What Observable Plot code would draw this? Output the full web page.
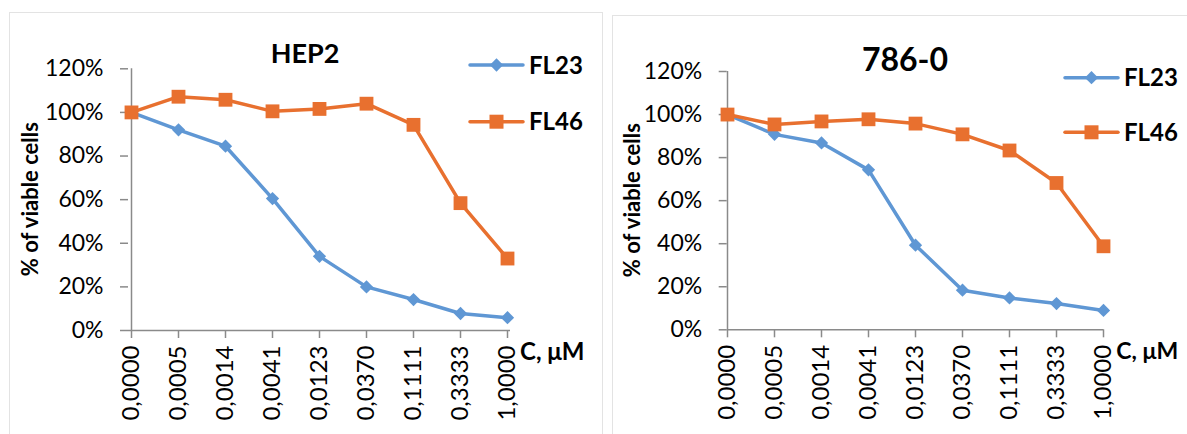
<!DOCTYPE html>
<html>
<head>
<meta charset="utf-8">
<script src="https://cdn.jsdelivr.net/npm/d3@7"></script>
<script src="https://cdn.jsdelivr.net/npm/@observablehq/plot@0.6"></script>
<style>
  html, body { margin: 0; padding: 0; background: #fff; }
  #page { position: relative; width: 1187px; height: 434px; overflow: hidden; background: #fff; }
  .panel { position: absolute; border: 1px solid #e3e3e3; background: #fff; }
  .chart { position: absolute; top: 0; }
</style>
</head>
<body>
<div id="page">
  <div class="panel" style="left:9px; top:12px; width:592px; height:440px;"></div>
  <div class="panel" style="left:612px; top:15px; width:600px; height:440px;"></div>
  <div class="chart" id="c1" style="left:0px;"></div>
  <div class="chart" id="c2" style="left:600px;"></div>
</div>
<script>
// ---- data ----
const concentrations = ["0,0000","0,0005","0,0014","0,0041","0,0123","0,0370","0,1111","0,3333","1,0000"];
const seriesNames = ["FL23", "FL46"];
const hep2FL23 = [100, 92, 84.5, 60.5, 34, 20, 14.2, 7.8, 5.9];
const hep2FL46 = [100, 107.2, 105.8, 100.5, 101.6, 104, 94.3, 58.4, 33];
const c786FL23 = [100, 90.8, 86.8, 74.3, 39.3, 18.4, 14.8, 12.2, 9];
const c786FL46 = [100, 95.4, 96.8, 97.8, 95.8, 90.8, 83.3, 68.2, 38.8];
const yTicks = [0, 20, 40, 60, 80, 100, 120];
const titles = ["HEP2", "786-0"];
const yLabel = "% of viable cells";
const xLabel = "C, μM";

const FONT = "Lato, 'Open Sans', 'Liberation Sans', sans-serif";
const BLUE = "#5f97d4";
const ORANGE = "#e8702f";
const AXIS = "#8a8a8a";

function chart(el, o) {
  const rows = concentrations.map((c, i) => ({c, FL23: o.fl23[i], FL46: o.fl46[i]}));
  const p = Plot.plot({
    width: o.width, height: 434,
    marginLeft: o.mL, marginRight: o.mR, marginTop: o.mT, marginBottom: o.mB,
    style: {fontFamily: FONT, fontSize: "23px", color: "#000", background: "transparent", overflow: "visible"},
    x: {type: "point", domain: concentrations, padding: 0, label: null},
    y: {domain: [0, 120], label: null},
    marks: [
      Plot.axisY({ticks: yTicks, tickFormat: d => d + "%", tickSize: 8, tickPadding: 17, stroke: AXIS, strokeWidth: 1.5, fill: "#000", fontSize: 23, label: null}),
      Plot.axisX({tickSize: 8, tickRotate: -90, tickPadding: 7, stroke: AXIS, strokeWidth: 1.5, fill: "#000", fontSize: 24, label: null}),
      Plot.ruleX([concentrations[0]], {y1: 0, y2: 120, stroke: AXIS, strokeWidth: 1.5}),
      Plot.ruleY([0], {stroke: AXIS, strokeWidth: 1.5}),
      Plot.line(rows, {x: "c", y: "FL23", stroke: BLUE, strokeWidth: 3.5}),
      Plot.dot(rows, {x: "c", y: "FL23", symbol: "square", rotate: 45, r: 5.3, fill: BLUE, stroke: "none"}),
      Plot.line(rows, {x: "c", y: "FL46", stroke: ORANGE, strokeWidth: 3.5}),
      Plot.dot(rows, {x: "c", y: "FL46", symbol: "square", r: 7.8, fill: ORANGE, stroke: "none"})
    ]
  });
  const svg = d3.select(p);
  // title
  svg.append("text").attr("x", o.titleX).attr("y", o.titleY).attr("text-anchor", "middle")
    .attr("font-weight", "bold").attr("font-size", o.titleSize).attr("font-family", FONT).text(o.title);
  // y label
  svg.append("text").attr("transform", `translate(${o.yLabX},${(o.mT + 434 - o.mB) / 2}) rotate(-90)`)
    .attr("text-anchor", "middle").attr("dy", "0.35em").attr("font-weight", "bold").attr("font-size", 22)
    .attr("font-family", FONT).text(yLabel);
  // x label
  svg.append("text").attr("x", o.width - o.mR + o.xLabDx).attr("y", 434 - o.mB + 30).attr("text-anchor", "start")
    .attr("font-weight", "bold").attr("font-size", o.xLabSize).attr("font-family", FONT).text(xLabel);
  // legend
  const leg = [
    {name: seriesNames[0], color: BLUE, y: o.legY[0], diamond: true},
    {name: seriesNames[1], color: ORANGE, y: o.legY[1], diamond: false}
  ];
  leg.forEach(l => {
    const g = svg.append("g");
    g.append("line").attr("x1", o.legX).attr("x2", o.legX + 53).attr("y1", l.y).attr("y2", l.y)
      .attr("stroke", l.color).attr("stroke-width", 3.5).attr("stroke-linecap", "round");
    const cx = o.legX + 26.5;
    if (l.diamond) {
      g.append("rect").attr("x", -4.7).attr("y", -4.7).attr("width", 9.4).attr("height", 9.4)
        .attr("transform", `translate(${cx},${l.y}) rotate(45)`).attr("fill", l.color);
    } else {
      g.append("rect").attr("x", cx - 7).attr("y", l.y - 7).attr("width", 14).attr("height", 14).attr("fill", l.color);
    }
    g.append("text").attr("x", o.legX + 59).attr("y", l.y).attr("dy", "0.36em").attr("text-anchor", "start")
      .attr("font-weight", "bold").attr("font-size", 24).attr("font-family", FONT).text(l.name);
  });
  document.getElementById(el).appendChild(p);
}

chart("c1", {title: titles[0], fl23: hep2FL23, fl46: hep2FL46, width: 600,
  mL: 128, mR: 90, mT: 68.3, mB: 104, titleX: 305, titleY: 63, titleSize: 27,
  yLabX: 30, legX: 470, legY: [65, 121.7], xLabDx: 10, xLabSize: 24});
chart("c2", {title: titles[1], fl23: c786FL23, fl46: c786FL46, width: 587,
  mL: 126.7, mR: 83.7, mT: 71, mB: 104.7, titleX: 305, titleY: 71, titleSize: 32,
  yLabX: 32, legX: 465, legY: [77.7, 132.3], xLabDx: 13, xLabSize: 23});
</script>
</body>
</html>
